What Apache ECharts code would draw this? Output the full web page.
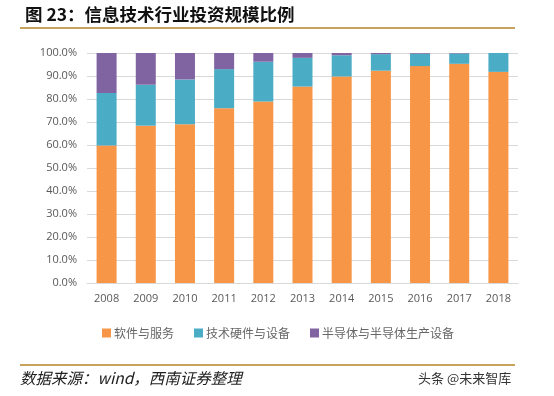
<!DOCTYPE html>
<html>
<head>
<meta charset="utf-8">
<script src="https://cdn.jsdelivr.net/npm/echarts@6/dist/echarts.min.js"></script>
<style>
  html, body { margin: 0; padding: 0; background: #fff; }
  #chart { width: 554px; height: 396px; }
</style>
</head>
<body>
<div id="chart"></div>
<script>
// 年份
const years = ['2008', '2009', '2010', '2011', '2012', '2013', '2014', '2015', '2016', '2017', '2018'];
// 各细分行业占比（%）
const software = [59.8, 68.4, 69.0, 76.0, 78.9, 85.4, 89.8, 92.3, 94.3, 95.3, 91.8];
const hardware = [22.8, 17.8, 19.5, 17.0, 17.3, 12.5, 9.2, 7.2, 5.4, 4.5, 8.2];
const semi = [17.4, 13.8, 11.5, 7.0, 3.8, 2.1, 1.0, 0.5, 0.3, 0.2, 0.0];
const seriesNames = ['软件与服务', '技术硬件与设备', '半导体与半导体生产设备'];

const chart = echarts.init(document.getElementById('chart'));
const font = '"Noto Sans CJK SC", "Open Sans", sans-serif';

const option = {
  backgroundColor: '#fff',
  textStyle: { fontFamily: font },
  title: {
    text: '图 23：信息技术行业投资规模比例',
    left: 20,
    top: 1,
    textStyle: { fontSize: 17.5, fontWeight: 'bold', color: '#111', fontFamily: font }
  },
  grid: { left: 87, right: 36, top: 53, bottom: 113 },
  legend: {
    data: seriesNames,
    bottom: 52,
    left: 97,
    itemWidth: 9,
    itemHeight: 9,
    itemGap: 20,
    icon: 'rect',
    textStyle: { fontSize: 12, color: '#666', fontFamily: font, padding: [0, 0, 0, -2] }
  },
  xAxis: {
    type: 'category',
    data: years,
    axisLine: { lineStyle: { color: '#d9d9d9' } },
    axisTick: { show: false },
    axisLabel: { color: '#595959', fontSize: 11, margin: 10, fontFamily: '"Open Sans", sans-serif' }
  },
  yAxis: {
    type: 'value',
    min: 0,
    max: 100,
    interval: 10,
    axisLine: { show: false },
    axisTick: { show: false },
    splitLine: { lineStyle: { color: '#d9d9d9' } },
    axisLabel: {
      color: '#595959',
      fontSize: 11,
      margin: 10,
      fontFamily: '"Open Sans", sans-serif',
      formatter: v => v.toFixed(1) + '%'
    }
  },
  series: [
    { name: seriesNames[0], type: 'bar', stack: 'total', data: software, barWidth: 20, itemStyle: { color: '#F79646' } },
    { name: seriesNames[1], type: 'bar', stack: 'total', data: hardware, barWidth: 20, itemStyle: { color: '#4BACC6' } },
    { name: seriesNames[2], type: 'bar', stack: 'total', data: semi, barWidth: 20, itemStyle: { color: '#8064A2' } }
  ],
  graphic: [
    { type: 'rect', shape: { x: 20, y: 27, width: 495, height: 2 }, style: { fill: '#C9A25E' } },
    { type: 'rect', shape: { x: 20, y: 364, width: 495, height: 2 }, style: { fill: '#C9A25E' } },
    {
      type: 'text', left: 20, top: 370,
      style: { text: '数据来源：wind，西南证券整理', fill: '#222', font: 'italic 15.5px ' + font }
    },
    {
      type: 'text', left: 418, top: 372,
      style: { text: '头条 @未来智库', fill: '#333', font: '13px ' + font }
    }
  ]
};

chart.setOption(option);
</script>
</body>
</html>
